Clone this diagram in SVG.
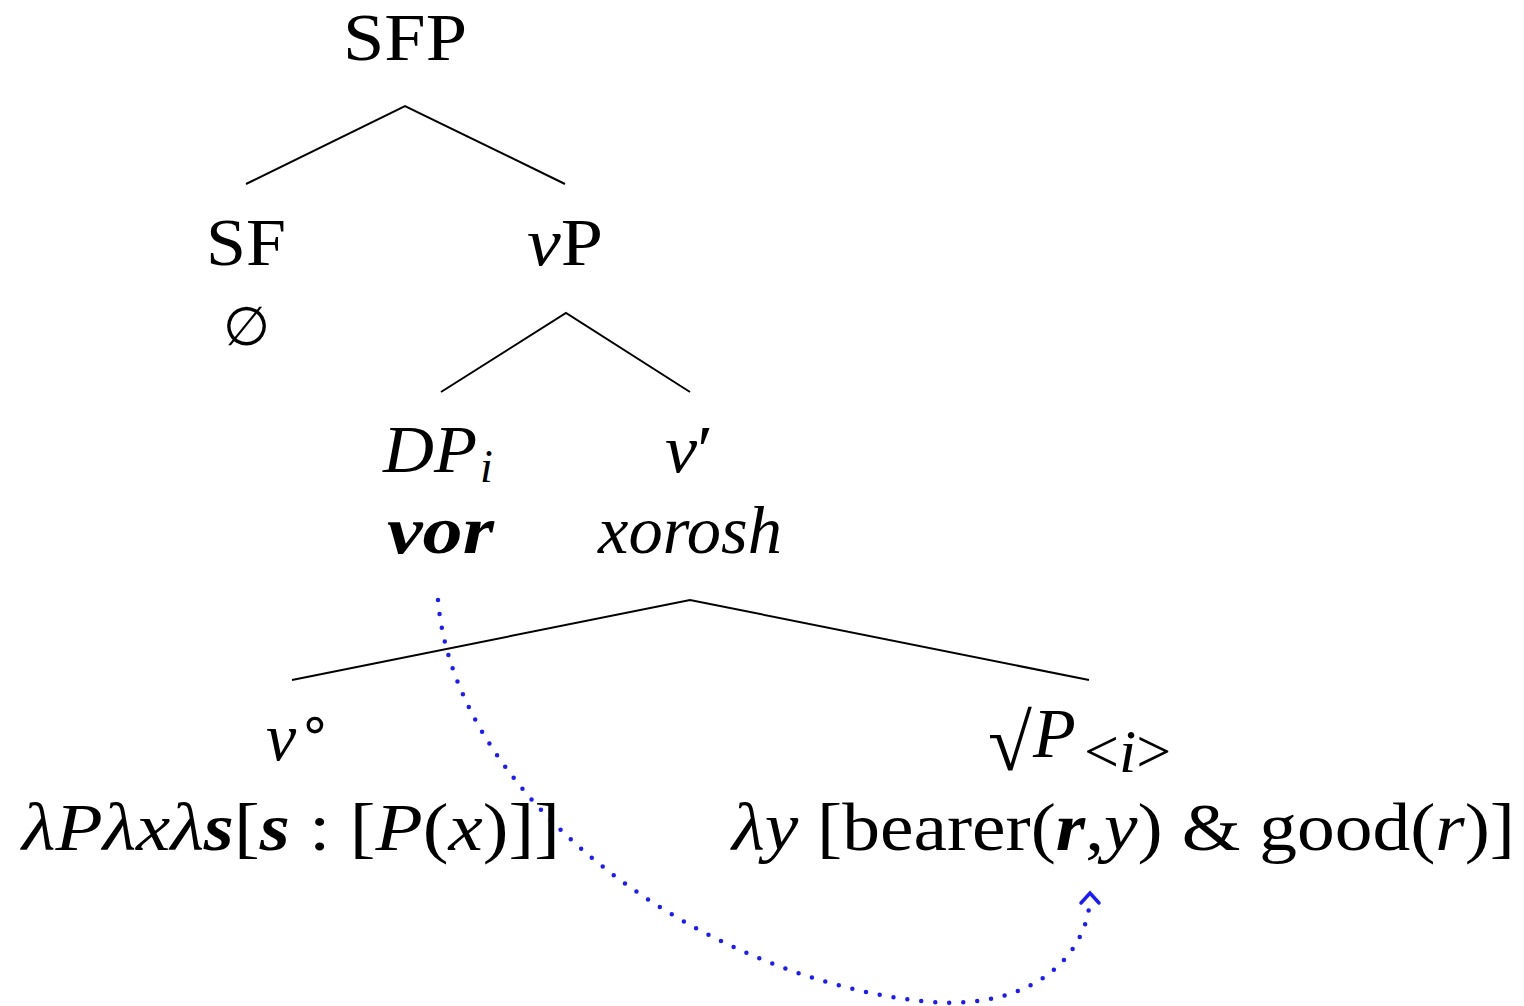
<svg xmlns="http://www.w3.org/2000/svg" width="1524" height="1006" viewBox="0 0 1524 1006">
<style>
text{font-family:"Liberation Serif","DejaVu Serif",serif;font-size:68px;fill:#000}
.it{font-style:italic}
.bi{font-style:italic;font-weight:bold}
.sub{font-size:46px}
.edge{stroke:#000;stroke-width:2;fill:none}
.move{stroke:#1a1aff;stroke-width:4.5;fill:none;stroke-linecap:round;stroke-dasharray:0 14}
</style>
<rect width="1524" height="1006" fill="#fff"/>
<g id="edges">
<polyline class="edge" points="246,184 405,106 565,184"/>
<polyline class="edge" points="441,392 566,313 690,392"/>
<polyline class="edge" points="292,680 690,600 1089,680"/>
<path class="move" d="M438,600 C455,800 700,980 930,1002 C1040,1010 1088,950 1090,898"/>
<polyline points="1081,903 1090,893 1099,903" fill="none" stroke="#1a1aff" stroke-width="3.5" stroke-linecap="round"/>
</g>
<g id="n-SFP"><text x="343" y="60" textLength="124" lengthAdjust="spacingAndGlyphs">SFP</text></g>
<g id="n-SF"><text x="206" y="265" textLength="80" lengthAdjust="spacingAndGlyphs">SF</text>
<text x="246" y="345" text-anchor="middle" font-family="DejaVu Serif" style="font-size:54px">∅</text></g>
<g id="n-vP"><text x="527" y="265" textLength="76" lengthAdjust="spacingAndGlyphs"><tspan class="it">v</tspan>P</text></g>
<g id="n-DP"><text x="383" y="472" class="it" textLength="94" lengthAdjust="spacingAndGlyphs">DP</text><text x="480" y="482" class="it sub">i</text>
<text x="387" y="553" class="bi" textLength="107" lengthAdjust="spacingAndGlyphs">vor</text></g>
<g id="n-vbar"><text x="665" y="472" textLength="48" lengthAdjust="spacingAndGlyphs"><tspan class="it">v</tspan>′</text>
<text x="598" y="553" class="it" textLength="184" lengthAdjust="spacingAndGlyphs">xorosh</text></g>
<g id="n-v0"><text x="266" y="760"><tspan class="it">v</tspan><tspan x="298" y="742" font-family="DejaVu Sans" style="font-size:54px">∘</tspan></text>
<text x="22" y="850" textLength="538" lengthAdjust="spacingAndGlyphs"><tspan class="it">λPλxλ</tspan><tspan class="bi">s</tspan>[<tspan class="bi">s</tspan> : [<tspan class="it">P</tspan>(<tspan class="it">x</tspan>)]]</text></g>
<g id="n-root"><text x="988" y="770"><tspan style="font-size:80px">√</tspan><tspan x="1033" y="757" class="it" style="font-size:70px">P</tspan><tspan x="1084" y="772" style="font-size:62px">&lt;<tspan class="it">i</tspan>&gt;</tspan></text>
<text x="732" y="850" textLength="783" lengthAdjust="spacingAndGlyphs"><tspan class="it">λy</tspan> [bearer(<tspan class="bi">r</tspan>,<tspan class="it">y</tspan>) &amp; good(<tspan class="it">r</tspan>)]</text></g>
</svg>
